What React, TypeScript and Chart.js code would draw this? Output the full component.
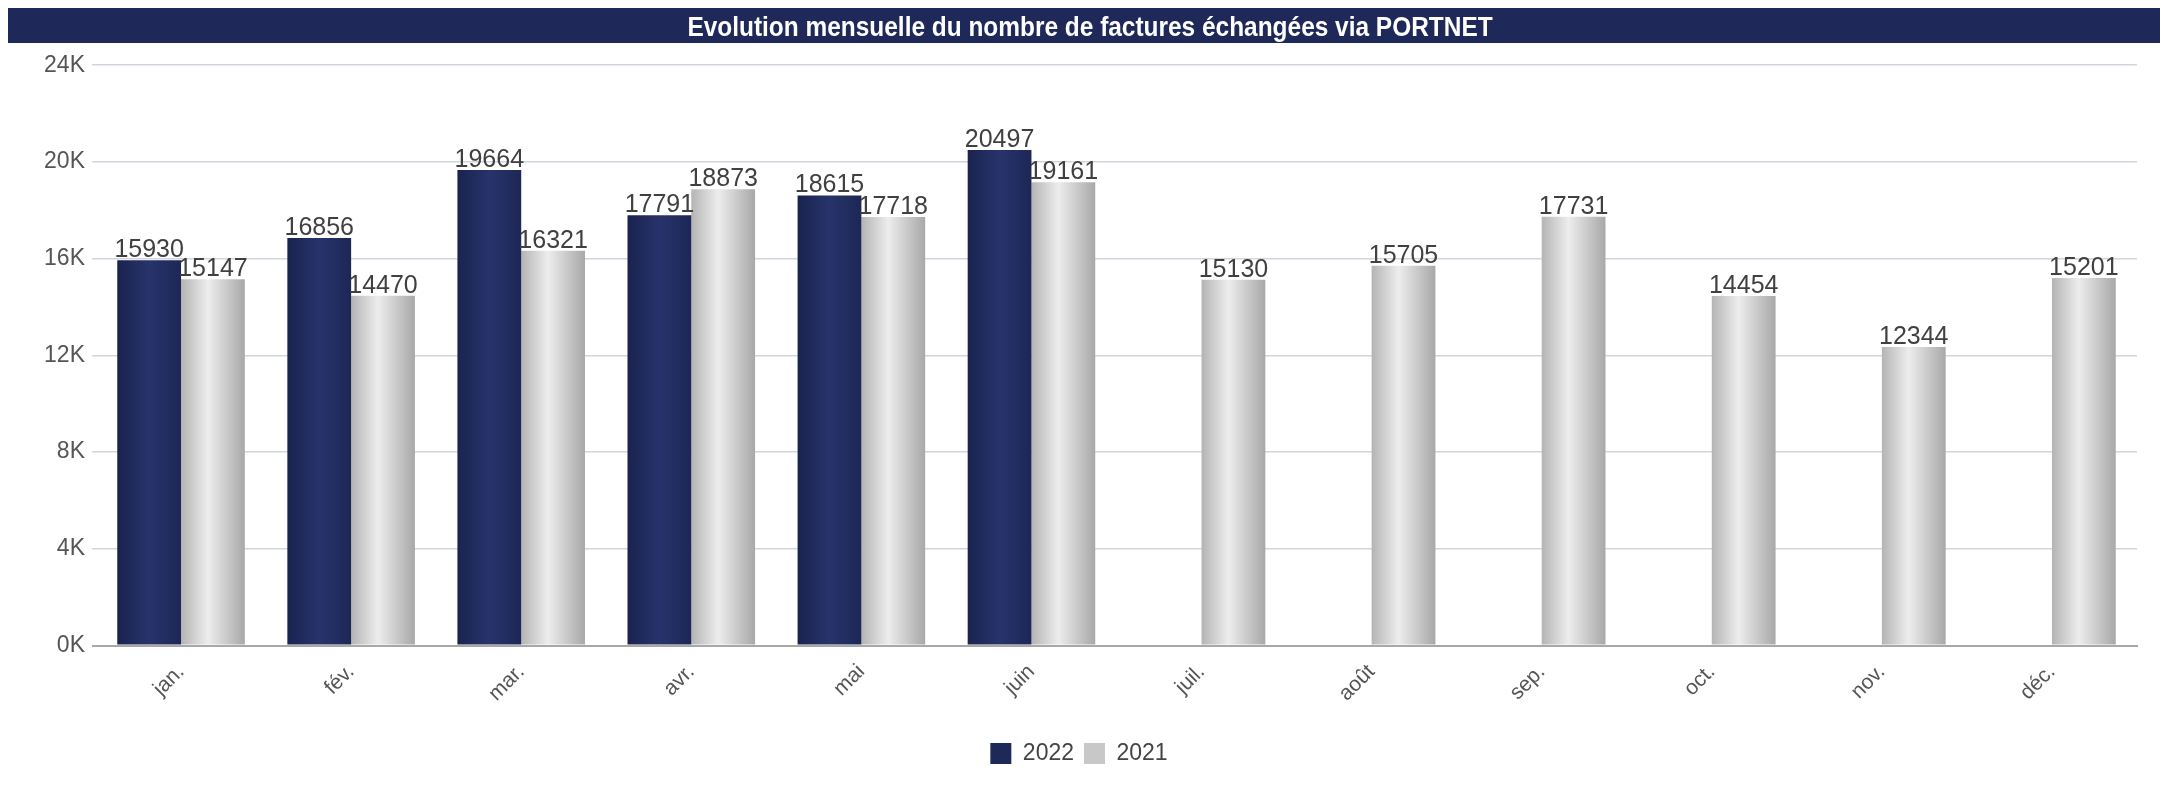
import React, { useEffect, useRef } from 'react';
import { Chart, registerables } from 'chart.js';

Chart.register(...registerables);

const titleText = 'Evolution mensuelle du nombre de factures échangées via PORTNET';
const categories = ['jan.', 'fév.', 'mar.', 'avr.', 'mai', 'juin', 'juil.', 'août', 'sep.', 'oct.', 'nov.', 'déc.'];
const seriesLabels = ['2022', '2021'];
const values2022: (number | null)[] = [15930, 16856, 19664, 17791, 18615, 20497, null, null, null, null, null, null];
const values2021: (number | null)[] = [15147, 14470, 16321, 18873, 17718, 19161, 15130, 15705, 17731, 14454, 12344, 15201];
const yTickValues = [0, 4000, 8000, 12000, 16000, 20000, 24000];

const NAVY = '#1e2859';
const LIGHT = '#c8c8c8';
const FONT = "'Liberation Sans', Arial, sans-serif";

const gradientStops: [number, string][][] = [
  [[0, '#1a234f'], [0.5, '#27336b'], [1, '#1d2756']],
  [[0, '#b4b4b4'], [0.42, '#ededed'], [1, '#a8a8a8']],
];

const titleBarPlugin = {
  id: 'titleBar',
  beforeDraw(chart: any) {
    const ctx = chart.ctx;
    ctx.save();
    ctx.fillStyle = NAVY;
    ctx.fillRect(0, 0, chart.width - 14, 35);
    ctx.fillStyle = '#ffffff';
    ctx.font = `bold 27px ${FONT}`;
    ctx.textAlign = 'center';
    ctx.textBaseline = 'alphabetic';
    const cx = (chart.width - 14) / 2 + 6;
    ctx.translate(cx, 28);
    ctx.scale(0.905, 1);
    ctx.fillText(titleText, 0, 0);
    ctx.restore();
  },
};

const barGradientPlugin = {
  id: 'barGradient',
  beforeDatasetsDraw(chart: any) {
    const ctx = chart.ctx;
    chart.data.datasets.forEach((_ds: any, di: number) => {
      const meta = chart.getDatasetMeta(di);
      meta.data.forEach((el: any) => {
        const { x, width } = el.getProps(['x', 'width'], true);
        if (!isFinite(x) || !isFinite(width) || width <= 0) return;
        const g = ctx.createLinearGradient(x - width / 2, 0, x + width / 2, 0);
        gradientStops[di].forEach(([o, c]) => g.addColorStop(o, c));
        el.options.backgroundColor = g;
      });
    });
  },
};

const valueLabelPlugin = {
  id: 'valueLabels',
  afterDatasetsDraw(chart: any) {
    const ctx = chart.ctx;
    ctx.save();
    ctx.font = `25px ${FONT}`;
    ctx.fillStyle = '#404040';
    ctx.textAlign = 'center';
    ctx.textBaseline = 'alphabetic';
    chart.data.datasets.forEach((ds: any, di: number) => {
      const meta = chart.getDatasetMeta(di);
      meta.data.forEach((el: any, i: number) => {
        const v = ds.data[i];
        if (v == null) return;
        ctx.fillText(String(v), el.x, el.y - 3);
      });
    });
    ctx.restore();
  },
};

export default function App() {
  const canvasRef = useRef<HTMLCanvasElement | null>(null);

  useEffect(() => {
    if (!canvasRef.current) return;
    const chart = new Chart(canvasRef.current, {
      type: 'bar',
      data: {
        labels: categories,
        datasets: [
          {
            label: seriesLabels[0],
            data: values2022,
            backgroundColor: () => NAVY,
            borderWidth: 0,
            categoryPercentage: 0.75,
            barPercentage: 1,
          },
          {
            label: seriesLabels[1],
            data: values2021,
            backgroundColor: () => LIGHT,
            borderWidth: 0,
            categoryPercentage: 0.75,
            barPercentage: 1,
          },
        ],
      },
      options: {
        animation: false,
        responsive: true,
        maintainAspectRatio: false,
        layout: { padding: { left: 0, right: 24, top: 57.2, bottom: 11 } },
        plugins: {
          title: { display: false },
          legend: {
            position: 'bottom',
            labels: {
              color: '#444444',
              font: { family: FONT, size: 23 },
              boxWidth: 21,
              boxHeight: 21,
              padding: 10,
            },
          },
          tooltip: { enabled: false },
        },
        scales: {
          x: {
            grid: { display: false },
            border: { display: true, color: '#a8a8a8', width: 2 },
            ticks: {
              color: '#555555',
              font: { family: FONT, size: 21 },
              maxRotation: 45,
              minRotation: 45,
              autoSkip: false,
              padding: 6,
            },
            afterFit: (scale: any) => {
              scale.height = 86.5;
            },
          },
          y: {
            min: 0,
            max: 24000,
            afterBuildTicks: (scale: any) => {
              scale.ticks = yTickValues.map((v) => ({ value: v }));
            },
            grid: {
              color: (c: any) => (c.tick && c.tick.value === 0 ? '#a8a8a8' : '#d2d5dd'),
              lineWidth: (c: any) => (c.tick && c.tick.value === 0 ? 2 : 1.5),
              drawTicks: true,
              tickLength: 4,
            },
            border: { display: false },
            ticks: {
              color: '#555555',
              font: { family: FONT, size: 23 },
              padding: 7,
              callback: (v: any) => `${Number(v) / 1000}K`,
            },
            afterFit: (scale: any) => {
              scale.width = 88;
            },
          },
          yRight: {
            position: 'right',
            display: true,
            grid: { display: false, drawOnChartArea: false },
            border: { display: false },
            ticks: { display: false },
            afterFit: (scale: any) => {
              scale.width = 13;
            },
          },
        },
      } as any,
      plugins: [titleBarPlugin, barGradientPlugin, valueLabelPlugin],
    });
    return () => chart.destroy();
  }, []);

  return (
    <div style={{ position: 'relative', width: '2166px', height: '778px' }}>
      <canvas ref={canvasRef} />
    </div>
  );
}
